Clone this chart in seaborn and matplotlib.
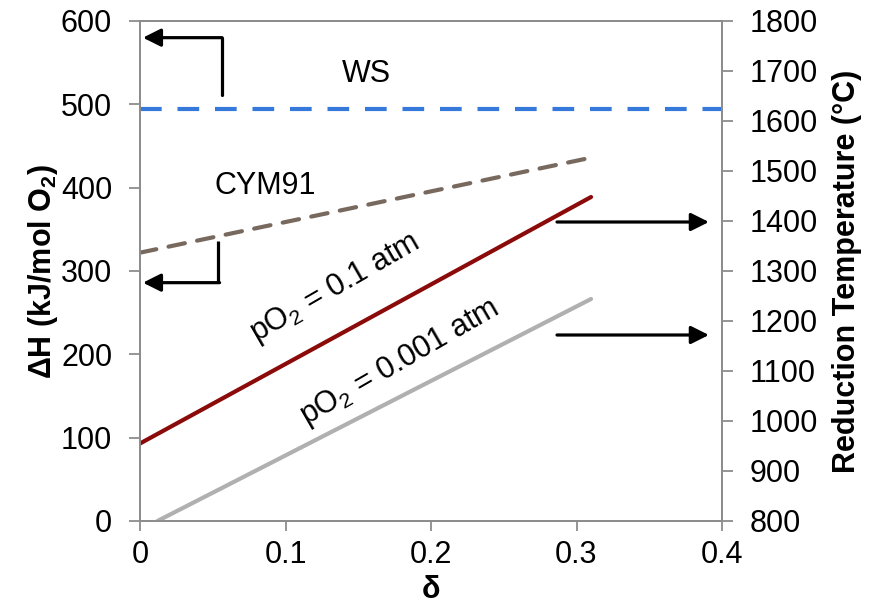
import matplotlib
matplotlib.use("Agg")
import matplotlib.pyplot as plt
import seaborn as sns
import pandas as pd

# ---- data ----
delta_ws = [0.0, 0.4]
dh_ws = [494, 494]
delta_cym = [0.0, 0.31]
dh_cym = [322, 436]
delta_p1 = [0.0, 0.31]
temp_p1 = [955, 1448]
delta_p3 = [0.012, 0.31]
temp_p3 = [800, 1244]

x_ticks = [0, 0.1, 0.2, 0.3, 0.4]
x_ticklabels = ["0", "0.1", "0.2", "0.3", "0.4"]
left_ticks = [0, 100, 200, 300, 400, 500, 600]
right_ticks = [800, 900, 1000, 1100, 1200, 1300, 1400, 1500, 1600, 1700, 1800]

sns.set_theme(style="white")
plt.rcParams["font.family"] = ["Liberation Sans", "DejaVu Sans"]
plt.rcParams["mathtext.fontset"] = "custom"
plt.rcParams["mathtext.rm"] = "Liberation Sans"
plt.rcParams["mathtext.bf"] = "Liberation Sans:bold"
plt.rcParams["text.color"] = "black"

FS = 22

fig = plt.figure(figsize=(8.74, 6.09), dpi=100)
ax = fig.add_axes([140 / 874, 1 - 521 / 609, (722 - 140) / 874, 500 / 609])
ax2 = ax.twinx()

spine_c = "#8c8c8c"

df_ws = pd.DataFrame({"d": delta_ws, "v": dh_ws})
df_cym = pd.DataFrame({"d": delta_cym, "v": dh_cym})
df_p1 = pd.DataFrame({"d": delta_p1, "v": temp_p1})
df_p3 = pd.DataFrame({"d": delta_p3, "v": temp_p3})

sns.lineplot(data=df_ws, x="d", y="v", ax=ax, color="#3579db", lw=3)
ax.lines[-1].set_dashes((5.2, 3.8))
sns.lineplot(data=df_cym, x="d", y="v", ax=ax, color="#78695f", lw=3)
ax.lines[-1].set_dashes((4.0, 3.0))
ax.lines[-1].set_dash_capstyle("round")
sns.lineplot(data=df_p1, x="d", y="v", ax=ax2, color="#8b0a0a", lw=3, solid_capstyle="round")
sns.lineplot(data=df_p3, x="d", y="v", ax=ax2, color="#b0b0b0", lw=3, solid_capstyle="round")

ax.set_xlim(0, 0.4)
ax.set_ylim(0, 600)
ax2.set_ylim(800, 1800)
ax.set_xticks(x_ticks)
ax.set_xticklabels(x_ticklabels)
ax.set_yticks(left_ticks)
ax2.set_yticks(right_ticks)

for a in (ax, ax2):
    for s in a.spines.values():
        s.set_color(spine_c)
        s.set_linewidth(1.3)

ax.tick_params(axis="x", direction="out", length=7, width=1.3, color=spine_c,
               labelsize=FS, pad=7, bottom=True, labelcolor="black")
ax.tick_params(axis="y", direction="out", length=8, width=1.3, color=spine_c,
               labelsize=FS, pad=12, left=True, labelcolor="black")
ax2.tick_params(axis="y", direction="out", length=8, width=1.3, color=spine_c,
                labelsize=FS, pad=12, right=True, labelcolor="black")

ax.set_xlabel("δ", fontsize=FS, fontweight="bold", labelpad=3, color="black")
ax.set_ylabel(r"ΔH (kJ/mol O$_\mathbf{2}$)", fontsize=FS, fontweight="bold", labelpad=1, color="black")
ax2.set_ylabel("Reduction Temperature (°C)", fontsize=FS, fontweight="bold", labelpad=10, color="black")

# ---- text annotations ----
ax.text(0.1553, 537, "WS", fontsize=FS, ha="center", va="center", color="black")
ax.text(0.0859, 402, "CYM91", fontsize=FS, ha="center", va="center", color="black")
ax.text(0.134, 279, r"pO$_\mathrm{2}$ = 0.1 atm", fontsize=FS, ha="center", va="center",
        rotation=30, color="black")
ax.text(0.1787, 190, r"pO$_\mathrm{2}$ = 0.001 atm", fontsize=FS, ha="center", va="center",
        rotation=30, color="black")

# ---- arrows ----
arrow_kw = dict(arrowstyle="-|>,head_length=0.9,head_width=0.45", color="black", lw=2.3,
                shrinkA=0, shrinkB=0)
# top-left elbow arrow
ax.plot([0.0564, 0.0564], [511, 580], color="black", lw=2.3, solid_capstyle="round")
ax.annotate("", xy=(0.002, 580), xytext=(0.0564, 580), arrowprops=arrow_kw)
# lower-left elbow arrow
ax.plot([0.0536, 0.0536], [336, 286], color="black", lw=2.3, solid_capstyle="butt")
ax.annotate("", xy=(0.002, 286), xytext=(0.0547, 286), arrowprops=arrow_kw)
# right arrows
ax2.annotate("", xy=(0.391, 1398), xytext=(0.2866, 1398), arrowprops=arrow_kw)
ax2.annotate("", xy=(0.391, 1172), xytext=(0.2866, 1172), arrowprops=arrow_kw)

fig.savefig("out.png", dpi=100)
